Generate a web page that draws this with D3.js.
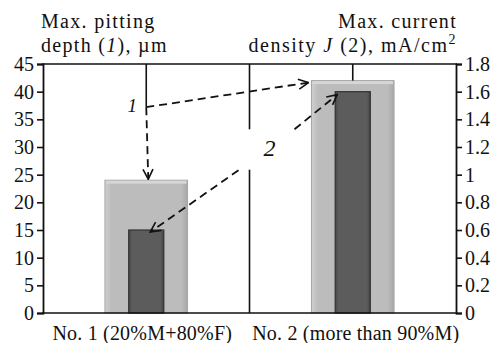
<!DOCTYPE html>
<html><head><meta charset="utf-8">
<script src="https://cdn.jsdelivr.net/npm/d3@7/dist/d3.min.js"></script>
<style>body{margin:0;background:#fff}svg{display:block}text{font-family:"Liberation Serif","Times New Roman",serif;fill:#111}</style>
</head><body><svg id="c" width="496" height="343"></svg>
<script>
const categories = ["No. 1 (20%M+80%F)", "No. 2 (more than 90%M)"];
const depth = [24, 42];          // series 1, left axis, µm
const current = [0.6, 1.6];      // series 2, right axis, mA/cm2
const leftTicks = [0,5,10,15,20,25,30,35,40,45];
const rightTicks = [0,0.2,0.4,0.6,0.8,1,1.2,1.4,1.6,1.8];

const svg = d3.select("#c");
const m = {l:43, r:456, t:64, b:313};
const x = d3.scaleBand().domain(categories).range([m.l, m.r]);
const yL = d3.scaleLinear().domain([0,45]).range([m.b, m.t]);
const yR = d3.scaleLinear().domain([0,1.8]).range([m.b, m.t]);

const defs = svg.append("defs");
const g1 = defs.append("linearGradient").attr("id","lg").attr("x1",0).attr("x2",1).attr("y1",0).attr("y2",0);
[[0,"#d0d0d0"],[0.08,"#bcbcbc"],[0.92,"#bcbcbc"],[1,"#a8a8a8"]].forEach(s=>g1.append("stop").attr("offset",s[0]).attr("stop-color",s[1]));
const g2 = defs.append("linearGradient").attr("id","dg").attr("x1",0).attr("x2",1).attr("y1",0).attr("y2",0);
[[0,"#4a4a4a"],[0.1,"#5c5c5c"],[0.9,"#5c5c5c"],[1,"#444"]].forEach(s=>g2.append("stop").attr("offset",s[0]).attr("stop-color",s[1]));
defs.append("marker").attr("id","ah").attr("viewBox","0 0 12 12").attr("refX",11).attr("refY",6)
  .attr("markerWidth",12).attr("markerHeight",12).attr("markerUnits","userSpaceOnUse").attr("orient","auto")
  .append("path").attr("d","M1,1 L11,6 L1,11").attr("fill","none").attr("stroke","#111").attr("stroke-width",1.6);

// light bars (depth)
const lw = x.bandwidth()*0.4;
svg.selectAll(".lb").data(depth).join("rect")
  .attr("x",(d,i)=>x(categories[i])+x.bandwidth()/2-lw/2).attr("width",lw)
  .attr("y",d=>yL(d)).attr("height",d=>yL(0)-yL(d))
  .attr("fill","url(#lg)").attr("stroke","#a5a5a5").attr("stroke-width",1);
svg.selectAll(".lbt").data(depth).join("rect")
  .attr("x",(d,i)=>x(categories[i])+x.bandwidth()/2-lw/2+1).attr("width",lw-2)
  .attr("y",d=>yL(d)+0.5).attr("height",3).attr("fill","#d6d6d6");
// dark bars (current)
const dw = x.bandwidth()*0.17;
svg.selectAll(".db").data(current).join("rect")
  .attr("x",(d,i)=>x(categories[i])+x.bandwidth()/2-dw/2).attr("width",dw)
  .attr("y",d=>yR(d)).attr("height",d=>yR(0)-yR(d))
  .attr("fill","url(#dg)").attr("stroke","#333").attr("stroke-width",1.2);

// frame
const ln = (x1,y1,x2,y2)=>svg.append("line").attr("x1",x1).attr("y1",y1).attr("x2",x2).attr("y2",y2).attr("stroke","#111").attr("stroke-width",1.6);
ln(m.l-1, m.t, m.r+1, m.t);
ln(m.l-1, m.b, m.r+1, m.b);
// category divider with gap
const mid = x(categories[1]);
ln(mid, m.t, mid, yL(33.2));
ln(mid, yL(25.9), mid, m.b);
// top ticks at category centres
const c1 = x(categories[0])+x.bandwidth()/2, c2 = x(categories[1])+x.bandwidth()/2;
ln(c1, m.t, c1, yL(37.2));
ln(c2, m.t, c2, yL(depth[1]));

// axes
const aL = svg.append("g").attr("transform",`translate(${m.l},0)`)
  .call(d3.axisLeft(yL).tickValues(leftTicks).tickSize(6).tickPadding(3).tickFormat(d3.format("d")));
const aR = svg.append("g").attr("transform",`translate(${m.r},0)`)
  .call(d3.axisRight(yR).tickValues(rightTicks).tickSize(6).tickPadding(3).tickFormat(d=>String(+d.toFixed(1))));
[aL,aR].forEach(a=>{a.select(".domain").attr("stroke","#111").attr("stroke-width",1.8);
  a.selectAll(".tick line").attr("stroke","#111").attr("stroke-width",1.6);
  a.selectAll(".tick text").attr("font-family","Liberation Serif, serif").attr("font-size",20).attr("fill","#111");
  a.attr("font-family",null);});

// x labels
svg.selectAll(".xl").data(categories).join("text")
  .attr("x",(d,i)=>x(d)+x.bandwidth()/2+(i?3:-4)).attr("y",339.5).attr("text-anchor","middle")
  .attr("font-size",20).attr("letter-spacing",0.2).text(d=>d);

// titles
const tL = svg.append("text").attr("x",41).attr("font-size",20).attr("letter-spacing",1.3);
tL.append("tspan").attr("x",41).attr("y",28).text("Max. pitting");
const tl2 = tL.append("tspan").attr("x",41).attr("y",52);
tl2.append("tspan").text("depth (");
tl2.append("tspan").attr("font-style","italic").text("1");
tl2.append("tspan").text("), µm");
const tR = svg.append("text").attr("text-anchor","end").attr("font-size",20).attr("letter-spacing",1.3);
tR.append("tspan").attr("x",457).attr("y",28).text("Max. current");
const tr2 = svg.append("text").attr("text-anchor","end").attr("font-size",20).attr("letter-spacing",1.5).attr("x",457).attr("y",52);
tr2.append("tspan").text("density ");
tr2.append("tspan").attr("font-style","italic").text("J");
tr2.append("tspan").text(" (2), mA/cm");
tr2.append("tspan").attr("font-size",14).attr("dy",-8).text("2");

// annotations
const dash = "8,5";
const arr = (x1,y1,x2,y2)=>svg.append("line").attr("x1",x1).attr("y1",y1).attr("x2",x2).attr("y2",y2)
  .attr("stroke","#111").attr("stroke-width",1.8).attr("stroke-dasharray",dash).attr("marker-end","url(#ah)");
const o1 = [c1, yL(37.2)];
arr(o1[0], o1[1], c1+2, yL(depth[0])-1);
arr(o1[0], o1[1], x(categories[1])+x.bandwidth()/2-lw/2-3, yL(depth[1])+2);
svg.append("text").attr("x",c1-14).attr("y",yL(36.3)).attr("text-anchor","middle")
  .attr("font-size",19).attr("font-style","italic").text("1");
svg.append("text").attr("x",mid+20).attr("y",yL(28.4)).attr("text-anchor","middle")
  .attr("font-size",24).attr("font-style","italic").text("2");
arr(mid-11, yL(25.8), c1+4, yR(current[0])+2);
arr(mid+45, yL(33.2), c2-dw/2+2, yR(current[1])+3);
</script></body></html>
